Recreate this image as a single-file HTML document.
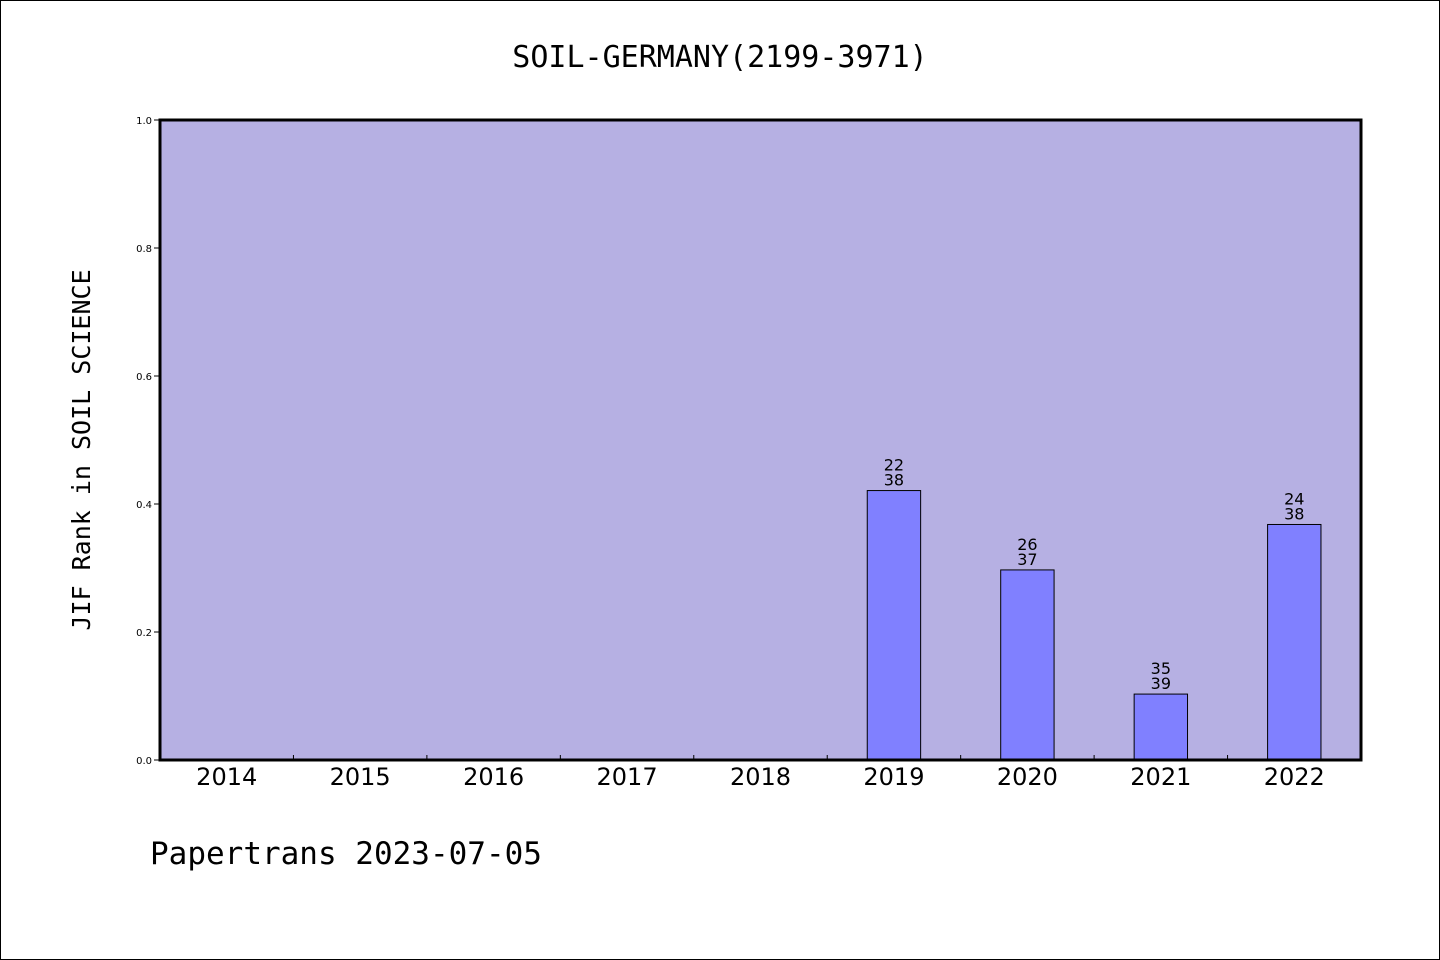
<!DOCTYPE html>
<html><head><meta charset="utf-8"><style>
body{margin:0;background:#fff}
svg{display:block}
</style></head><body>
<svg width="1440" height="960" xmlns="http://www.w3.org/2000/svg">
<rect x="0.5" y="0.5" width="1439" height="959" fill="#fff" stroke="#000"/>
<text x="720" y="67" text-anchor="middle" font-family="'DejaVu Sans Mono','Liberation Mono',monospace" font-size="30">SOIL-GERMANY(2199-3971)</text>
<text transform="translate(90,450) rotate(-90)" text-anchor="middle" font-family="'DejaVu Sans Mono','Liberation Mono',monospace" font-size="25">JIF Rank in SOIL SCIENCE</text>
<text x="150" y="864" font-family="'DejaVu Sans Mono','Liberation Mono',monospace" font-size="31">Papertrans 2023-07-05</text>
<g id="plot"></g>
</svg>
<script>
const categories=["2014","2015","2016","2017","2018","2019","2020","2021","2022"];
const values=[null,null,null,null,null,0.421,0.297,0.103,0.368];
const rankLabels=["","","","","","22","26","35","24"];
const totalLabels=["","","","","","38","37","39","38"];
const yTicks=[0,0.2,0.4,0.6,0.8,1.0];
const yTickLabels=["0.0","0.2","0.4","0.6","0.8","1.0"];
const L=160,R=1361,T=120,B=760;
const band=(R-L)/categories.length;
const xc=i=>L+band*(i+0.5);
const y=v=>B-(B-T)*v;
const ns="http://www.w3.org/2000/svg";
const g=document.getElementById('plot');
function mk(tag,attrs){const e=document.createElementNS(ns,tag);for(const k in attrs)e.setAttribute(k,attrs[k]);g.appendChild(e);return e;}
let bg=mk('rect',{x:L,y:T,width:R-L,height:B-T,fill:'#b6b0e3'});


categories.forEach((c,i)=>{
  if(i>0){let t=mk('line',{x1:L+band*i,x2:L+band*i,y1:B-5,y2:B,stroke:'#000'});
    
    }
  let lb=mk('text',{x:xc(i),y:B+25,'text-anchor':'middle','font-family':"'DejaVu Sans','Liberation Sans',sans-serif",'font-size':24});
  lb.textContent=c;
  
  
  const v=values[i];
  if(v!=null){
    const w=band*0.4;
    let r=mk('rect',{x:xc(i)-w/2,y:y(v),width:w,height:B-y(v),fill:'#8080ff',stroke:'#000','stroke-width':1});
    
    
    let t1=mk('text',{x:xc(i),y:y(v)-20,'text-anchor':'middle','font-family':"'DejaVu Sans','Liberation Sans',sans-serif",'font-size':16});
    t1.textContent=rankLabels[i];
    
    
    let t2=mk('text',{x:xc(i),y:y(v)-5,'text-anchor':'middle','font-family':"'DejaVu Sans','Liberation Sans',sans-serif",'font-size':16});
    t2.textContent=totalLabels[i];
    
    
  }
});
yTicks.forEach((v,i)=>{
  let t=mk('line',{x1:L-6,x2:L,y1:y(v),y2:y(v),stroke:'#000'});
  
  
  let lb=mk('text',{x:152,y:y(v)+4,'text-anchor':'end','font-family':"'DejaVu Sans','Liberation Sans',sans-serif",'font-size':10});
  lb.textContent=yTickLabels[i];
  
  
});
let fr=mk('rect',{x:L,y:T,width:R-L,height:B-T,fill:'none',stroke:'#000','stroke-width':3});


</script>
</body></html>
